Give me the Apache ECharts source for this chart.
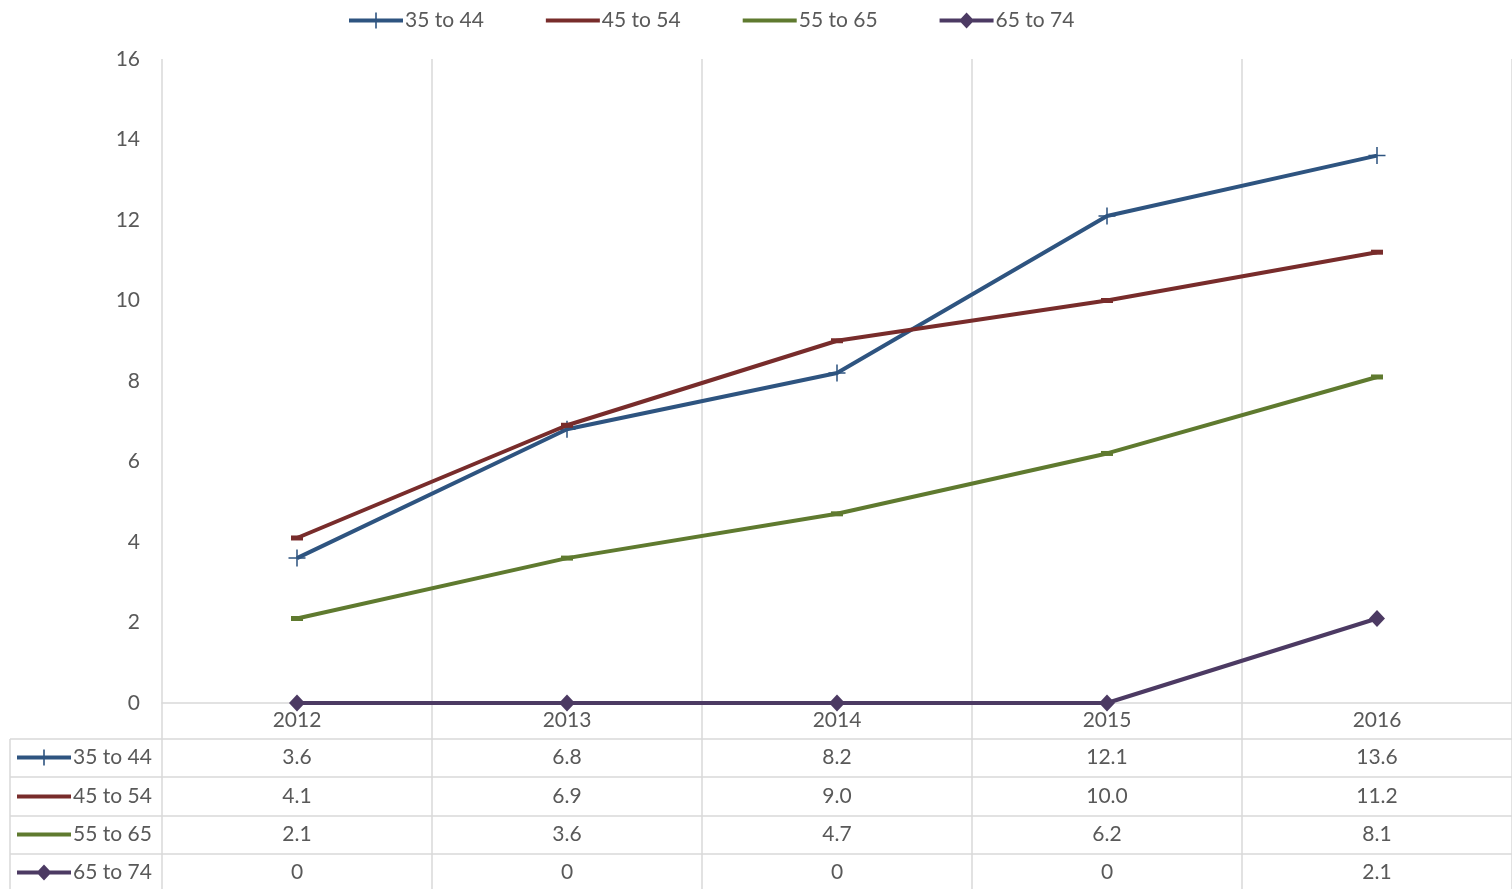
<!DOCTYPE html>
<html>
<head>
<meta charset="utf-8">
<script src="https://cdn.jsdelivr.net/npm/echarts@6/dist/echarts.min.js"></script>
<style>
  html, body { margin: 0; padding: 0; background: #fff; }
  #chart { width: 1512px; height: 889px; }
</style>
</head>
<body>
<div id="chart"></div>
<script>
// Years on the category axis
const years = ['2012', '2013', '2014', '2015', '2016'];

// Age groups
const seriesNames = ['35 to 44', '45 to 54', '55 to 65', '65 to 74'];

// Values per age group
const age35to44 = [3.6, 6.8, 8.2, 12.1, 13.6];
const age45to54 = [4.1, 6.9, 9.0, 10.0, 11.2];
const age55to65 = [2.1, 3.6, 4.7, 6.2, 8.1];
const age65to74 = [0, 0, 0, 0, 2.1];

// Value axis ticks
const yTicks = [0, 2, 4, 6, 8, 10, 12, 14, 16];

const allValues = [age35to44, age45to54, age55to65, age65to74];

const colors = ['#2e5480', '#782c2b', '#5f7a2f', '#4c3a63'];
const textColor = '#595959';
const gridColor = '#d9d9d9';
const fontFamily = 'Lato, "Open Sans", sans-serif';
const fontSize = 21;

// Markers used on the lines
const plusMarker = 'path://M9.1,0h1.8v20h-1.8z M0,9.1h20v1.8h-20z';
const dashMarker = 'rect';
const diamondMarker = 'diamond';
const markers = [plusMarker, dashMarker, dashMarker, diamondMarker];
const markerSizes = [[17, 17], [12, 5], [12, 5], [16, 17]];

// Legend icons: a line segment with the series marker in the middle.
// The two zero-area corner paths keep every icon's box at 54x16.
const iconBox = 'M0,0L0,0z M54,16L54,16z ';
const legendIcons = [
  'path://' + iconBox + 'M0,6h54v4h-54z M26.2,0h1.6v16h-1.6z',
  'path://' + iconBox + 'M0,6h54v4h-54z',
  'path://' + iconBox + 'M0,6h54v4h-54z',
  'path://' + iconBox + 'M0,6h54v4h-54z M27,0L34.5,8L27,16L19.5,8z'
];

// Row offsets of the data table below the axis
const tableRowOffsets = [37, 76, 114, 152];
// Vertical centres of the table rows
const tableRowCenters = [757, 796, 834, 872];

const fmt = v => (v === 0 ? '0' : v.toFixed(1));

const chart = echarts.init(document.getElementById('chart'));

const labelStyle = { color: textColor, fontFamily: fontFamily, fontSize: fontSize };

const legendData = seriesNames.map((n, i) => ({ name: n, icon: legendIcons[i] }));

const legendCommon = {
  padding: 0,
  itemWidth: 54,
  itemHeight: 16,
  symbolKeepAspect: false,
  selectedMode: false,
  itemStyle: { borderWidth: 0 },
  textStyle: Object.assign({ padding: [0, 0, 0, -3] }, labelStyle)
};

const legends = [Object.assign({ data: legendData, left: 349, top: 10, itemGap: 62 }, legendCommon)];
// One legend key at the start of each table row
legendData.forEach((item, i) => {
  legends.push(Object.assign({ data: [item], left: 17, top: tableRowCenters[i] - 10 }, legendCommon));
});

const xAxes = [{
  type: 'category',
  data: years,
  gridIndex: 0,
  position: 'bottom',
  axisLine: { show: true, lineStyle: { color: gridColor, width: 1.5 } },
  axisTick: { show: false },
  axisLabel: Object.assign({ margin: 7 }, labelStyle),
  splitLine: { show: true, lineStyle: { color: gridColor, width: 1.5 } }
}];

allValues.forEach((vals, i) => {
  xAxes.push({
    type: 'category',
    data: vals.map(fmt),
    gridIndex: 0,
    position: 'bottom',
    offset: tableRowOffsets[i],
    axisLine: { show: false },
    axisTick: { show: false },
    splitLine: { show: false },
    axisLabel: Object.assign({ margin: 7 }, labelStyle)
  });
});

const option = {
  animation: false,
  backgroundColor: '#fff',
  color: colors,
  grid: { left: 162, right: 0, top: 59, bottom: 186, containLabel: false },
  legend: legends,
  xAxis: xAxes,
  yAxis: {
    type: 'value',
    min: yTicks[0],
    max: yTicks[yTicks.length - 1],
    interval: yTicks[1] - yTicks[0],
    axisLine: { show: false },
    axisTick: { show: false },
    splitLine: { show: false },
    axisLabel: Object.assign({ margin: 22 }, labelStyle)
  },
  series: allValues.map((vals, i) => ({
    name: seriesNames[i],
    type: 'line',
    xAxisIndex: 0,
    data: vals,
    symbol: markers[i],
    symbolSize: markerSizes[i],
    showAllSymbol: true,
    lineStyle: { width: 4, color: colors[i] },
    itemStyle: { color: colors[i], borderWidth: 0 },
    z: 3 + i
  }))
};

chart.setOption(option);

// Table borders: category boundaries continue down through the table rows
const x0 = chart.convertToPixel({ xAxisIndex: 0 }, years[0]);
const x1 = chart.convertToPixel({ xAxisIndex: 0 }, years[1]);
const band = x1 - x0;
const axisY = chart.convertToPixel({ yAxisIndex: 0 }, 0);
const tableTop = 739;
const rowLines = [739, 777, 816, 854];
const tableBottom = 889;
const tableLeft = 10;
const lineStyle = { stroke: gridColor, lineWidth: 1.5 };

const graphics = [];
for (let k = 0; k <= years.length; k++) {
  const x = x0 - band / 2 + k * band;
  graphics.push({
    type: 'line', silent: true,
    shape: { x1: x, y1: axisY, x2: x, y2: tableBottom },
    style: lineStyle
  });
}
rowLines.forEach(y => {
  graphics.push({
    type: 'line', silent: true,
    shape: { x1: tableLeft, y1: y, x2: 1512, y2: y },
    style: lineStyle
  });
});
graphics.push({
  type: 'line', silent: true,
  shape: { x1: tableLeft, y1: tableTop, x2: tableLeft, y2: tableBottom },
  style: lineStyle
});

chart.setOption({ graphic: graphics });
</script>
</body>
</html>
